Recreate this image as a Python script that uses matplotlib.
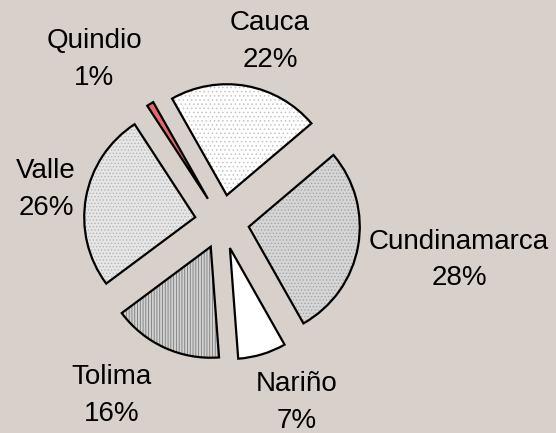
import matplotlib
matplotlib.use("Agg")
import matplotlib.pyplot as plt

# data
regions = ["Cauca", "Cundinamarca", "Nariño", "Tolima", "Valle", "Quindio"]
shares = [22, 28, 7, 16, 26, 1]

# look of each slice
face_colors = ["#ffffff", "#d6d6d6", "#ffffff", "#d2d2d2", "#e6e6e6", "#e46a6a"]
hatch_colors = ["#c4c4c4", "#a4a4a4", "#ffffff", "#7a7a7a", "#b4b4b4", "#e46a6a"]
hatches = ["....", ".....", "", "||||||", ".....", ""]
# centre of each two-line label block, in pie radius units
label_xy = [(0.432, 1.653), (2.135, -0.313), (0.676, -1.60),
            (-0.991, -1.532), (-1.586, 0.320), (-1.153, 1.491)]

BG = "#d8d1cb"
plt.rcParams["font.family"] = ["Liberation Sans", "DejaVu Sans"]
plt.rcParams["hatch.linewidth"] = 0.6

fig = plt.figure(figsize=(5.56, 4.33), dpi=100)
fig.patch.set_facecolor(BG)
ax = fig.add_axes([0, 0, 1, 1])
ax.set_facecolor(BG)

explode = [0.245] * len(shares)
# fill + hatch layer
fills, _ = ax.pie(shares, explode=explode, startangle=119.5, counterclock=False,
                  colors=face_colors, wedgeprops=dict(linewidth=0))
for w, h, hc in zip(fills, hatches, hatch_colors):
    w.set_hatch(h)
    w.set_edgecolor(hc)
    w.set_linewidth(0)
# outline layer
outlines, _ = ax.pie(shares, explode=explode, startangle=119.5, counterclock=False,
                     colors=["none"] * len(shares),
                     wedgeprops=dict(edgecolor="black", linewidth=1.6, joinstyle="miter"))

for name, pct, (x, y) in zip(regions, shares, label_xy):
    ax.text(x, y + 0.074, name, ha="center", va="baseline", fontsize=20)
    ax.text(x, y - 0.259, f"{pct}%", ha="center", va="baseline", fontsize=20)

ax.set_aspect("auto")
ax.set_xlim(-2.0, 3.009)
ax.set_ylim(-1.901, 2.0)
ax.axis("off")

fig.savefig("out.png", dpi=100, facecolor=BG)
